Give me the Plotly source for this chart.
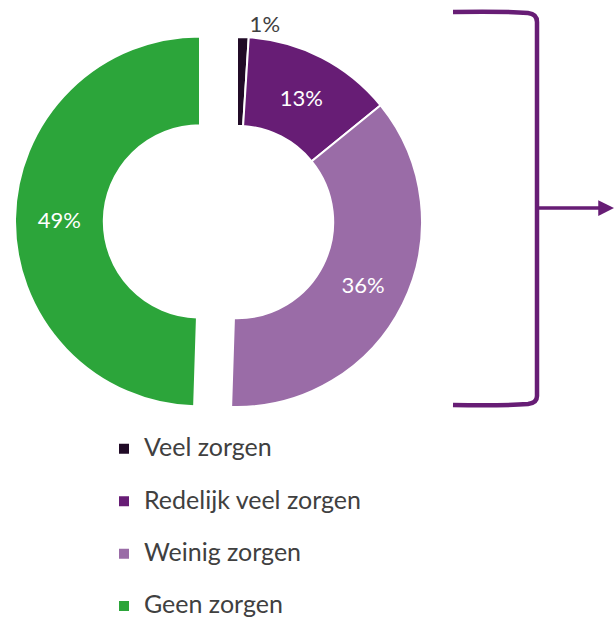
import plotly.graph_objects as go

# ---- data ----
labels = ["Veel zorgen", "Redelijk veel zorgen", "Weinig zorgen", "Geen zorgen"]
values = [1, 13, 36, 49]
text_labels = ["1%", "13%", "36%", "49%"]
colors = ["#210b27", "#671d75", "#9a6ca7", "#2ca53a"]
pulls = [0, 0, 0, 0.2]
text_positions = ["outside", "inside", "inside", "inside"]

W, H = 615, 618


def X(px):
    return px / W


def Y(py):
    return 1 - py / H


# legend: larger visible text, extra blank line for the item spacing
legend_labels = ["<span style='font-size:25px'>" + l + "</span><br> " for l in labels]

fig = go.Figure()
fig.add_trace(go.Pie(
    labels=legend_labels,
    values=values,
    text=text_labels,
    textinfo="text",
    textposition=text_positions,
    insidetextorientation="horizontal",
    insidetextfont=dict(color="white", size=22, family="Lato"),
    outsidetextfont=dict(color="#404040", size=22, family="Lato"),
    marker=dict(colors=colors, line=dict(color="white", width=2)),
    hole=0.52,
    pull=pulls,
    sort=False,
    direction="clockwise",
    rotation=0,
    domain=dict(x=[X(237 - 222), X(237 + 222)], y=[Y(444), 1]),
    hoverinfo="percent",
))

# bracket
purple = "#671d75"
path = (
    f"M {X(453)},{Y(12)} "
    f"Q {X(500)},{Y(11)} {X(528)},{Y(13)} "
    f"Q {X(537)},{Y(14)} {X(537)},{Y(22)} "
    f"L {X(537)},{Y(396)} "
    f"Q {X(537)},{Y(403)} {X(528)},{Y(404)} "
    f"Q {X(500)},{Y(406)} {X(453)},{Y(405)}"
)
fig.add_shape(type="path", path=path, xref="paper", yref="paper",
              line=dict(color=purple, width=4.5))

fig.add_annotation(
    x=X(614), y=Y(208), xref="paper", yref="paper",
    ax=-77, ay=0, text="", showarrow=True,
    arrowhead=2, arrowsize=0.9, arrowwidth=3.5, arrowcolor=purple,
)

fig.update_layout(
    width=W, height=H,
    margin=dict(l=0, r=0, t=0, b=0, autoexpand=False),
    paper_bgcolor="white",
    plot_bgcolor="white",
    showlegend=True,
    legend=dict(
        x=X(104), y=Y(430), xanchor="left", yanchor="top",
        orientation="v",
        valign="top",
        font=dict(family="Lato", size=19, color="#404040"),
        bgcolor="rgba(0,0,0,0)",
        tracegroupgap=0,
    ),
)

fig.write_html("out.html", config={"displayModeBar": False},
               post_script="document.body.style.margin='0';")
